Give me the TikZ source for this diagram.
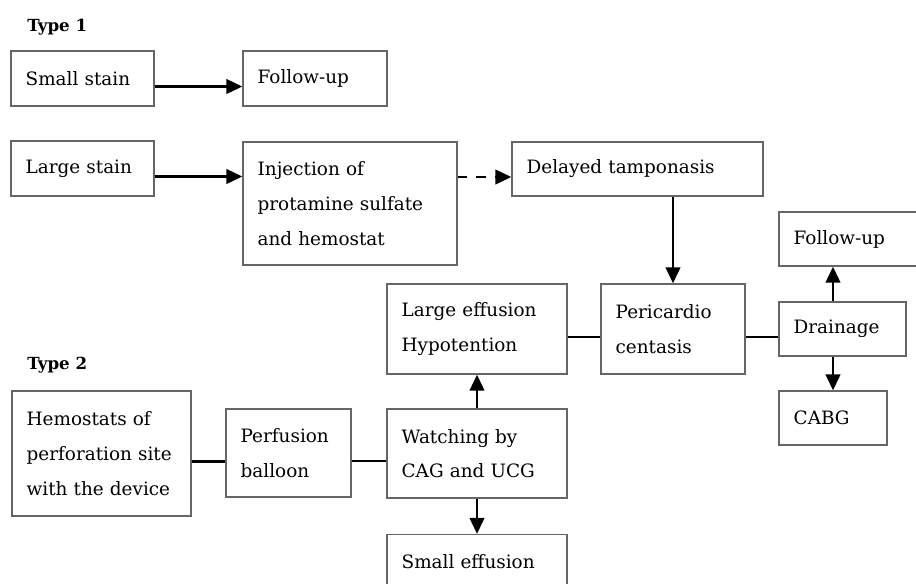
\documentclass[tikz,border=0pt]{standalone}
\usepackage{fontspec}
\setmainfont{DejaVu Serif}
\usetikzlibrary{arrows.meta}

\begin{document}
\begin{tikzpicture}[x=0.75pt,y=-0.75pt]
	
	\tikzset{
		blk/.style 2 args={
			draw=black!60,
			line width=1pt,
			minimum width=#1,
			minimum height=#2,
			text width={#1-22pt},
			inner xsep=11pt,
			inner ysep=0pt,
			align=left,
			anchor=center,
			font=\fontsize{13.8}{26}\selectfont
		},
		typelabel/.style={anchor=west, inner sep=0pt, font=\fontsize{12.5}{14}\bfseries},
		link/.style={line width=1.6pt},
		arr/.style={link, -{Triangle[length=12pt,width=11pt]}},
		lowered/.style={yshift=-6pt}
	}
	\useasboundingbox (0,0) rectangle (916,583);
	
	% type 1
	\node[typelabel] (type1) at (27,27) {Type 1};
	\node[blk={107.25pt}{41.25pt}] (small) at (82.5,78.5) {Small stain};
	\node[blk={108pt}{41.25pt}] (follow) at (315,78.5) {Follow-up};
	\node[blk={107.25pt}{41.25pt}] (large) at (82.5,168.5) {Large stain};
	\node[blk={160.5pt}{92.25pt}] (inject) at (350,203.5) {Injection of\\protamine sulfate\\and hemostat};
	\node[blk={188.25pt}{40.5pt}] (delayed) at (637.5,169) {Delayed tamponasis};
	
	% type 2
	\node[typelabel] (type2) at (27,365) {Type 2};
	\node[blk={134.25pt}{93.75pt}] (hemo) at (101.5,453.5) {Hemostats of\\perforation site\\with the device};
	\node[blk={93.75pt}{66pt}] (balloon) at (288.5,453) {Perfusion\\balloon};
	\node[blk={135pt}{66.75pt}] (watch) at (477,453.5) {Watching by\\CAG and UCG};
	\node[blk={135pt}{67.5pt}] (largeeff) at (477,329) {Large effusion\\Hypotention};
	\node[blk={135pt}{41.25pt}] (smalleff) at (477,562) {Small effusion};
	\node[blk={108pt}{67.5pt}] (pericard) at (673,329) {Pericardio\\centasis};
	\node[blk={95.25pt}{40.5pt}] (drain) at (842.5,329) {Drainage};
	\node[blk={108pt}{40.5pt}] (follow2) at (851,239) {Follow-up};
	\node[blk={81pt}{40.5pt}] (cabg) at (833,418) {CABG};
	
	% connectors
	\draw[arr] ([lowered]small.east) -- ([lowered]small.east -| follow.west);
	\draw[arr] ([lowered]large.east) -- ([lowered]large.east -| inject.west);
	\draw[arr, dash pattern=on 7pt off 7pt] ([lowered]delayed.west -| inject.east) -- ([lowered]delayed.west);
	\draw[arr] (delayed.south -| pericard.north) -- (pericard.north);
	\draw[link] ([lowered]hemo.east) -- ([lowered]hemo.east -| balloon.west);
	\draw[link] ([lowered]balloon.east) -- ([lowered]balloon.east -| watch.west);
	\draw[arr] (watch.north) -- (largeeff.south);
	\draw[arr] (watch.south) -- (smalleff.north);
	\draw[link] ([lowered]largeeff.east) -- ([lowered]pericard.west);
	\draw[link] ([lowered]pericard.east) -- ([lowered]drain.west);
	\draw[arr] (drain.north -| cabg.north) -- (follow2.south -| cabg.north);
	\draw[arr] (drain.south -| cabg.north) -- (cabg.north);
	
\end{tikzpicture}
\end{document}
